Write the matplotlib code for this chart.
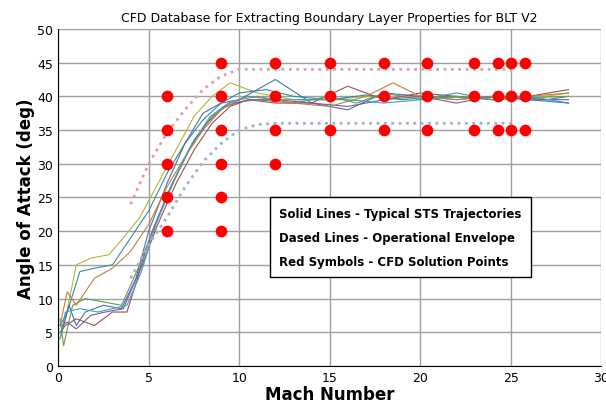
import numpy as np
import matplotlib.pyplot as plt

# STS trajectories (Mach, alpha)
trajs = [
    ([0.1, 0.4, 1.0, 1.8, 2.8, 3.6, 4.5, 5.5, 6.5, 7.5, 8.5, 9.5, 11, 13, 15, 17, 19, 21, 23, 25, 27, 28.2],
     [4, 7, 15, 16, 16.5, 19, 22, 27, 32, 37, 40, 42, 40.5, 39.5, 39.5, 40, 40, 39.8, 40, 39.6, 40, 40.5]),
    ([0.1, 0.5, 1.2, 2.0, 3.0, 4.0, 5.0, 6.0, 7.0, 8.0, 9.0, 10, 11.5, 13, 15, 17, 19, 21, 23, 25, 27, 28.2],
     [6, 8, 14, 14.5, 15, 19, 23, 28.5, 33, 36.5, 39, 40.5, 41, 40, 39.5, 40.2, 39.5, 40, 39.8, 40, 39.5, 40]),
    ([0.2, 0.6, 1.0, 1.5, 2.5, 3.5, 4.3, 5.0, 6.0, 7.0, 8.0, 9.0, 10, 12, 14, 16, 18, 20, 22, 24, 26, 28.2],
     [5, 9, 6, 8, 9, 8.5, 13, 20, 27, 33, 37.5, 39, 39.5, 42.5, 39, 38, 40.5, 40, 39.5, 40, 39.5, 39]),
    ([0.1, 0.4, 1.0, 2.0, 3.0, 3.8, 4.5, 5.5, 6.5, 7.5, 8.5, 9.5, 10.5, 12, 14, 16, 18, 20, 22, 24, 26, 28.2],
     [5, 6, 7, 6, 8, 8, 14, 21, 27, 32, 36, 38.5, 39.5, 39, 39, 41.5, 39.5, 40.5, 40, 39.5, 40, 41]),
    ([0.1, 0.3, 0.8, 1.5, 2.5, 3.5, 4.5, 5.5, 6.5, 7.5, 8.5, 9.5, 11, 13, 15, 16.5, 18, 20, 22, 24, 26, 28.2],
     [7, 3, 9, 10, 9.5, 9, 15, 22, 28, 33.5, 37, 39, 39.5, 39, 40, 39, 40.5, 39.5, 40, 39.5, 39.8, 40]),
    ([0.2, 0.5, 1.0, 1.8, 2.6, 3.6, 4.4, 5.2, 6.2, 7.2, 8.2, 9.2, 10.5, 12, 14, 16, 18, 20, 22, 24, 26, 28.2],
     [6, 6.5, 5.5, 7.5, 8, 8.5, 13.5, 20, 26.5, 32, 36, 38.5, 39.5, 39.5, 39, 38.5, 39.5, 40, 39, 40, 39.5, 39.5]),
    ([0.1, 0.5, 1.0, 2.0, 3.0, 4.0, 5.0, 6.0, 7.0, 8.0, 9.0, 10, 11, 13, 15, 17, 18.5, 20, 22, 24, 26, 28.2],
     [6, 11, 9, 13, 14.5, 17, 21, 26.5, 31, 35, 38, 39.5, 40, 39, 38.5, 40, 42, 40, 39.5, 40, 40, 40.5]),
    ([0.1, 0.4, 1.2, 2.2, 3.0, 3.8, 4.6, 5.4, 6.4, 7.4, 8.4, 9.4, 10.5, 12, 14, 16, 18, 20, 22, 24, 26, 28.2],
     [4, 8, 8.5, 8, 8.5, 9, 14, 21, 27.5, 33, 37, 39, 40, 39.5, 39.5, 39.5, 39, 39.5, 40.5, 39.5, 40, 39]),
]
traj_colors = ['#b5b536', '#3a8a9a', '#4a6fb0', '#a05050', '#6a9a4a', '#7a5aa0', '#c08040', '#3aa0c0']

# operational envelope (dashed)
env_hi_m = [4, 5, 6, 7, 8, 9, 10, 12, 15, 20, 25.1]
env_hi_a = [24, 30, 34.5, 38, 41, 43, 44, 44, 44, 44, 44]
env_lo_m = [4, 5, 6, 7, 8, 9, 10, 11, 12, 15, 20, 25.1]
env_lo_a = [13, 18, 22, 26.5, 30.3, 33, 35, 35.8, 36, 36, 36, 36]

# CFD solution points
cfd_mach = [6, 6, 6, 6, 6,
            9, 9, 9, 9, 9, 9,
            12, 12, 12, 12,
            15, 15, 15, 18, 18, 18, 20.4, 20.4, 20.4,
            23, 23, 23, 24.3, 24.3, 24.3, 25, 25, 25, 25.8, 25.8, 25.8]
cfd_alpha = [20, 25, 30, 35, 40,
             20, 25, 30, 35, 40, 45,
             30, 35, 40, 45,
             35, 40, 45, 35, 40, 45, 35, 40, 45,
             35, 40, 45, 35, 40, 45, 35, 40, 45, 35, 40, 45]

fig, ax = plt.subplots(figsize=(6.06, 4.10), dpi=100)
fig.subplots_adjust(left=0.096, right=0.992, top=0.927, bottom=0.105)

for (m, a), c in zip(trajs, traj_colors):
    ax.plot(m, a, color=c, lw=0.8)
ax.plot(env_hi_m, env_hi_a, ls=':', lw=2, color='#d8a0b0')
ax.plot(env_lo_m, env_lo_a, ls=':', lw=2, color='#a0b0d0')
ax.scatter(cfd_mach, cfd_alpha, s=55, color='#ff0000', zorder=5)

ax.set_xlim(0, 30)
ax.set_ylim(0, 50)
ax.set_xticks(range(0, 31, 5))
ax.set_yticks(range(0, 51, 5))
ax.grid(True, color='#a0a0a0', lw=1)
ax.set_axisbelow(True)
for s in ['top', 'right']:
    ax.spines[s].set_visible(False)
ax.tick_params(length=0, labelsize=9)
ax.set_title('CFD Database for Extracting Boundary Layer Properties for BLT V2', fontsize=9)
ax.set_xlabel('Mach Number', fontsize=12, fontweight='bold', labelpad=1)
ax.set_ylabel('Angle of Attack (deg)', fontsize=12, fontweight='bold', labelpad=2)

ax.text(12.2, 23.6, 'Solid Lines - Typical STS Trajectories\n'
        'Dased Lines - Operational Envelope\n'
        'Red Symbols - CFD Solution Points',
        fontsize=8.5, fontweight='bold', va='top', linespacing=2.1, zorder=6,
        bbox=dict(boxstyle='square,pad=0.8', fc='white', ec='black', lw=1))

plt.savefig('out.png')
